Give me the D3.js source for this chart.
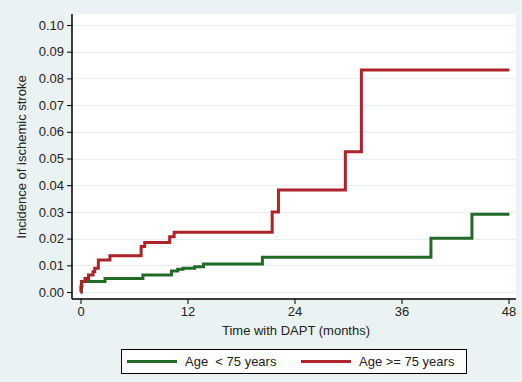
<!DOCTYPE html>
<html>
<head>
<meta charset="utf-8">
<script src="https://cdn.jsdelivr.net/npm/d3@7"></script>
<style>
  body { margin: 0; background: #eaf2f3; }
  svg { display: block; font-family: "Liberation Sans", Arial, sans-serif; }
</style>
</head>
<body>
<div id="chart"></div>
<script>
// Cumulative incidence, step curves
const youngMonths = [0, 0.1, 2.75, 7.0, 10.2, 10.9, 11.5, 12.8, 13.8, 20.4, 39.3, 43.9, 48.1];
const youngValues = [0, 0.0039, 0.0051, 0.0064, 0.0079, 0.0085, 0.0089, 0.0095, 0.0105, 0.0130, 0.0201, 0.0291, 0.0291];

const oldMonths = [0, 0.05, 0.15, 0.5, 0.9, 1.4, 1.6, 2.0, 3.3, 6.8, 7.2, 10.0, 10.5, 21.5, 22.2, 29.7, 31.5, 48.1];
const oldValues = [0, 0.002, 0.0039, 0.0051, 0.0064, 0.0076, 0.0089, 0.0120, 0.0136, 0.0170, 0.0185, 0.0207, 0.0224, 0.0300, 0.0382, 0.0525, 0.0831, 0.0831];

const xTicks = [0, 12, 24, 36, 48];
const yTicks = [0, 0.01, 0.02, 0.03, 0.04, 0.05, 0.06, 0.07, 0.08, 0.09, 0.10];

const seriesNames = ['Age  < 75 years', 'Age >= 75 years'];
const seriesColors = ['#226b26', '#ac2329'];

const width = 522;
const height = 382;
const plot = { left: 72, right: 516, top: 14, bottom: 299 };

const svg = d3.select('#chart').append('svg')
  .attr('width', width)
  .attr('height', height);

svg.append('rect')
  .attr('width', width).attr('height', height)
  .attr('fill', '#eaf2f3');

svg.append('rect')
  .attr('x', plot.left).attr('y', plot.top)
  .attr('width', plot.right - plot.left)
  .attr('height', plot.bottom - plot.top)
  .attr('fill', '#fff');

const x = d3.scaleLinear().domain([0, 48]).range([80.5, 508.5]);
const y = d3.scaleLinear().domain([0, 0.1]).range([292, 25]);

// gridlines
svg.append('g')
  .selectAll('line')
  .data(yTicks)
  .join('line')
  .attr('x1', plot.left).attr('x2', plot.right)
  .attr('y1', d => Math.round(y(d)) + 0.5).attr('y2', d => Math.round(y(d)) + 0.5)
  .attr('stroke', '#e6eef0')
  .attr('stroke-width', 1);

// axes
const yAxis = svg.append('g')
  .attr('transform', `translate(${plot.left},0)`)
  .call(d3.axisLeft(y).tickValues(yTicks).tickFormat(d3.format('.2f')).tickSize(5).tickSizeOuter(0));
yAxis.select('.domain').remove();
yAxis.append('line')
  .attr('x1', 0).attr('x2', 0)
  .attr('y1', plot.top).attr('y2', plot.bottom)
  .attr('stroke', '#000').attr('stroke-width', 1.5);

const xAxis = svg.append('g')
  .attr('transform', `translate(0,${plot.bottom})`)
  .call(d3.axisBottom(x).tickValues(xTicks).tickSize(5).tickSizeOuter(0));
xAxis.select('.domain').remove();
xAxis.append('line')
  .attr('x1', plot.left).attr('x2', plot.right)
  .attr('y1', 0).attr('y2', 0)
  .attr('stroke', '#000').attr('stroke-width', 1.5);

svg.selectAll('.tick text')
  .attr('font-size', 13)
  .attr('font-family', '"Liberation Sans", Arial, sans-serif')
  .attr('fill', '#222');
svg.selectAll('.tick line').attr('stroke', '#000');

// axis titles
svg.append('text')
  .attr('transform', `translate(26,157) rotate(-90)`)
  .attr('text-anchor', 'middle')
  .attr('font-size', 13)
  .attr('fill', '#222')
  .text('Incidence of ischemic stroke');

svg.append('text')
  .attr('x', 296).attr('y', 335)
  .attr('text-anchor', 'middle')
  .attr('font-size', 13)
  .attr('fill', '#222')
  .text('Time with DAPT (months)');

// curves
const line = d3.line()
  .x(d => x(d[0]))
  .y(d => y(d[1]))
  .curve(d3.curveStepAfter);

const series = [
  d3.zip(youngMonths, youngValues),
  d3.zip(oldMonths, oldValues)
];

svg.append('g')
  .selectAll('path')
  .data(series)
  .join('path')
  .attr('d', line)
  .attr('fill', 'none')
  .attr('stroke', (d, i) => seriesColors[i])
  .attr('stroke-width', 3)
  .attr('stroke-linejoin', 'miter');

// legend
const legend = svg.append('g');
legend.append('rect')
  .attr('x', 121.5).attr('y', 349.5)
  .attr('width', 345).attr('height', 24)
  .attr('fill', '#fff')
  .attr('stroke', '#000');

const legendX = [127, 301];
seriesNames.forEach((name, i) => {
  legend.append('line')
    .attr('x1', legendX[i]).attr('x2', legendX[i] + 50)
    .attr('y1', 361.5).attr('y2', 361.5)
    .attr('stroke', seriesColors[i])
    .attr('stroke-width', 3);
  legend.append('text')
    .attr('x', legendX[i] + 58).attr('y', 366)
    .attr('font-size', 13)
    .attr('fill', '#222')
    .attr('xml:space', 'preserve')
    .style('white-space', 'pre')
    .text(name);
});
</script>
</body>
</html>
